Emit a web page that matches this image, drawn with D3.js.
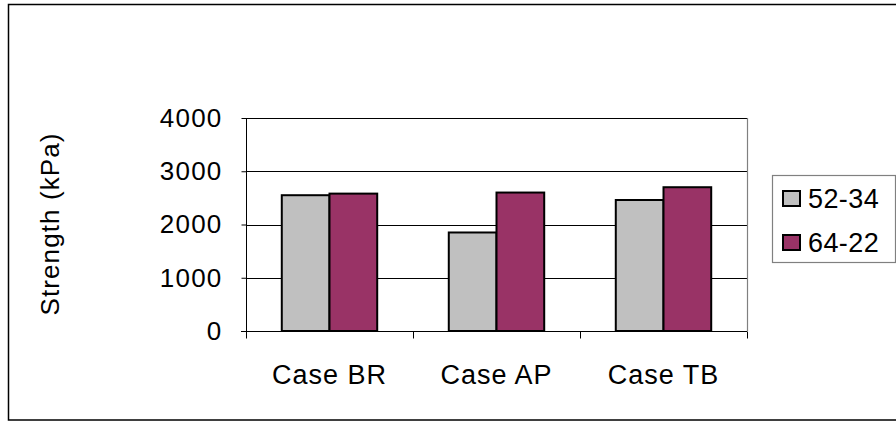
<!DOCTYPE html>
<html>
<head>
<meta charset="utf-8">
<script src="https://cdnjs.cloudflare.com/ajax/libs/d3/7.8.5/d3.min.js"></script>
<style>
  body { margin: 0; background: #fff; }
  text { font-family: Arial, "Liberation Sans", sans-serif; fill: #000; }
</style>
</head>
<body>
<div id="chart"></div>
<script>
// data
const categories = ["Case BR", "Case AP", "Case TB"];
const seriesNames = ["52-34", "64-22"];
const values5234 = [2550, 1850, 2460];
const values6422 = [2580, 2600, 2700];
const yTicks = [0, 1000, 2000, 3000, 4000];

const colors = { "52-34": "#C0C0C0", "64-22": "#993366" };

const W = 896, H = 421;
const plot = { left: 246, right: 747, top: 118, bottom: 331 };

const svg = d3.select("#chart").append("svg")
    .attr("width", W)
    .attr("height", H);

// outer frame
svg.append("rect")
    .attr("x", 8.5).attr("y", 4.5)
    .attr("width", 900).attr("height", 415.5)
    .attr("fill", "none")
    .attr("stroke", "#000")
    .attr("stroke-width", 1.5);

// scales
const x0 = d3.scaleBand()
    .domain(categories)
    .range([plot.left, plot.right]);

// gap width 150% -> bar = band / 3.5
const barW = x0.bandwidth() / 3.5;
const x1 = d3.scaleBand()
    .domain(seriesNames)
    .range([0, barW * 2]);

const y = d3.scaleLinear()
    .domain([0, 4000])
    .range([plot.bottom, plot.top]);

// gridlines
svg.append("g")
    .selectAll("line")
    .data(yTicks.filter(d => d > 0))
    .enter()
    .append("line")
    .attr("x1", plot.left).attr("x2", plot.right)
    .attr("y1", d => Math.round(y(d)) + 0.5)
    .attr("y2", d => Math.round(y(d)) + 0.5)
    .attr("stroke", "#000")
    .attr("stroke-width", 1);

// right border of plot
svg.append("line")
    .attr("x1", plot.right + 0.5).attr("x2", plot.right + 0.5)
    .attr("y1", plot.top).attr("y2", plot.bottom)
    .attr("stroke", "#808080")
    .attr("stroke-width", 1.2);

// bars
const rows = categories.map((c, i) => ({
    cat: c,
    vals: [
        { key: "52-34", v: values5234[i] },
        { key: "64-22", v: values6422[i] }
    ]
}));

const groups = svg.append("g")
    .selectAll("g")
    .data(rows)
    .enter()
    .append("g")
    .attr("transform", d => `translate(${x0(d.cat) + (x0.bandwidth() - barW * 2) / 2},0)`);

groups.selectAll("rect")
    .data(d => d.vals)
    .enter()
    .append("rect")
    .attr("x", d => x1(d.key))
    .attr("width", x1.bandwidth())
    .attr("y", d => y(d.v))
    .attr("height", d => y(0) - y(d.v))
    .attr("fill", d => colors[d.key])
    .attr("stroke", "#000")
    .attr("stroke-width", 2);

// y axis
const yAxis = svg.append("g")
    .attr("transform", `translate(${plot.left + 0.5},0)`)
    .call(d3.axisLeft(y).tickValues(yTicks).tickFormat(d3.format("d")).tickSize(5).tickPadding(19));
yAxis.select(".domain").attr("stroke", "#000").attr("d", `M0,${plot.top}V${plot.bottom + 7}`);
yAxis.selectAll(".tick line").attr("stroke", "#000");
yAxis.selectAll("text")
    .attr("font-size", 26)
    .attr("letter-spacing", 1.2)
    .attr("font-family", "Arial, 'Liberation Sans', sans-serif");

// x axis
const xAxis = svg.append("g")
    .attr("transform", `translate(0,${plot.bottom + 0.5})`);
xAxis.append("line")
    .attr("x1", plot.left - 5).attr("x2", plot.right)
    .attr("stroke", "#000");
xAxis.selectAll(".xtick")
    .data(categories.map(c => x0(c)).concat([plot.right]))
    .enter()
    .append("line")
    .attr("class", "xtick")
    .attr("x1", d => d + 0.5).attr("x2", d => d + 0.5)
    .attr("y1", 0).attr("y2", 7)
    .attr("stroke", "#000");
xAxis.selectAll("text")
    .data(categories)
    .enter()
    .append("text")
    .attr("x", d => x0(d) + x0.bandwidth() / 2)
    .attr("y", 52)
    .attr("text-anchor", "middle")
    .attr("font-size", 27)
    .attr("letter-spacing", 1.0)
    .text(d => d);

// y label
svg.append("text")
    .attr("transform", "translate(59,224) rotate(-90)")
    .attr("text-anchor", "middle")
    .attr("font-size", 26)
    .attr("letter-spacing", 1.1)
    .text("Strength (kPa)");

// legend
const legend = svg.append("g");
legend.append("rect")
    .attr("x", 772.5).attr("y", 175.5)
    .attr("width", 123).attr("height", 87)
    .attr("fill", "#fff")
    .attr("stroke", "#808080")
    .attr("stroke-width", 1.2);

const items = legend.selectAll("g")
    .data(seriesNames)
    .enter()
    .append("g")
    .attr("transform", (d, i) => `translate(0,${i * 44})`);

items.append("rect")
    .attr("x", 783).attr("y", 191)
    .attr("width", 17).attr("height", 15)
    .attr("fill", d => colors[d])
    .attr("stroke", "#000")
    .attr("stroke-width", 2);

items.append("text")
    .attr("x", 808)
    .attr("y", 208)
    .attr("font-size", 27)
    .attr("letter-spacing", 0.4)
    .text(d => d);
</script>
</body>
</html>
